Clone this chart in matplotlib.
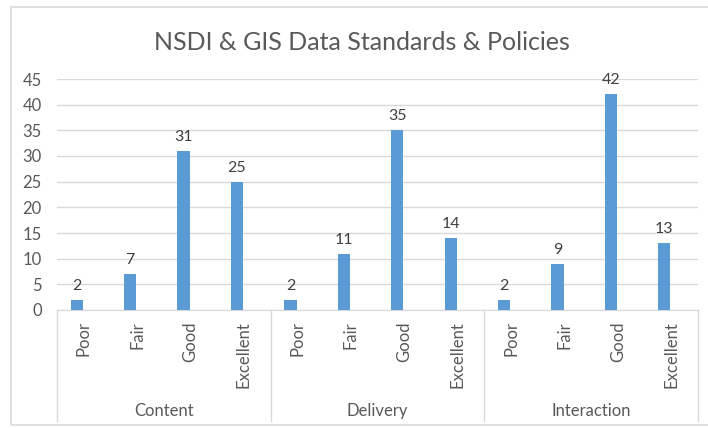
import matplotlib
matplotlib.use("Agg")
import matplotlib.pyplot as plt
import matplotlib.transforms as mtransforms
from matplotlib.patches import Rectangle

groups = ["Content", "Delivery", "Interaction"]
ratings = ["Poor", "Fair", "Good", "Excellent"]
content_vals = [2, 7, 31, 25]
delivery_vals = [2, 11, 35, 14]
interaction_vals = [2, 9, 42, 13]
yticks = [0, 5, 10, 15, 20, 25, 30, 35, 40, 45]

plt.rcParams['font.family'] = ['Lato', 'DejaVu Sans']
TXT = '#595959'
BAR = '#5B9BD5'
GRID = '#D9D9D9'

W, H = 708, 428
fig = plt.figure(figsize=(W/100, H/100), dpi=100)
fig.patches.append(Rectangle((11/W, 3/H), 710/W, 418/H, transform=fig.transFigure,
                             fill=False, edgecolor='#D9D9D9', linewidth=1.2))

y0, y45 = 310, 79
ax = fig.add_axes([57/W, 1-y0/H, 641/W, (y0-y45)/H])
values = content_vals + delivery_vals + interaction_vals
labels = ratings * len(groups)
n = len(values)
pos = list(range(n))
barpos = [p - 0.13 for p in pos]
ax.bar(barpos, values, width=0.23, color=BAR, zorder=3)
for x, v in zip(barpos, values):
    ax.annotate(str(v), (x, v), xytext=(0, 5), textcoords='offset points',
                ha='center', va='bottom', fontsize=11.5, color='#404040')

ax.set_xlim(-0.5, n - 0.5)
ax.set_ylim(0, 45)
ax.set_yticks(yticks)
ax.yaxis.grid(True, color=GRID, linewidth=1, zorder=0)
ax.tick_params(axis='y', length=0, pad=11, labelsize=12, labelcolor=TXT)
for s in ['top', 'right', 'left']:
    ax.spines[s].set_visible(False)
ax.spines['bottom'].set_color(GRID)
ax.set_xticks(pos)
ax.set_xticklabels(labels, rotation=90, fontsize=12, color=TXT)
ax.tick_params(axis='x', length=0, pad=8)

trans = mtransforms.blended_transform_factory(ax.transData, ax.transAxes)
hpx = y0 - y45
depth = (421 - y0) / hpx
for gi in range(len(groups) + 1):
    xb = gi * len(ratings) - 0.5
    ax.plot([xb, xb], [0, -depth], transform=trans, color=GRID, linewidth=1, clip_on=False)
for gi, g in enumerate(groups):
    xc = gi * len(ratings) + (len(ratings) - 1) / 2
    ax.text(xc, -(411 - y0) / hpx, g, transform=trans, ha='center', va='center',
            fontsize=12, color=TXT)

fig.text(0.5 + 8/W, 1 - 42/H, "NSDI & GIS Data Standards & Policies", ha='center', va='center',
         fontsize=18, color=TXT)

fig.savefig("out.png", dpi=100)
